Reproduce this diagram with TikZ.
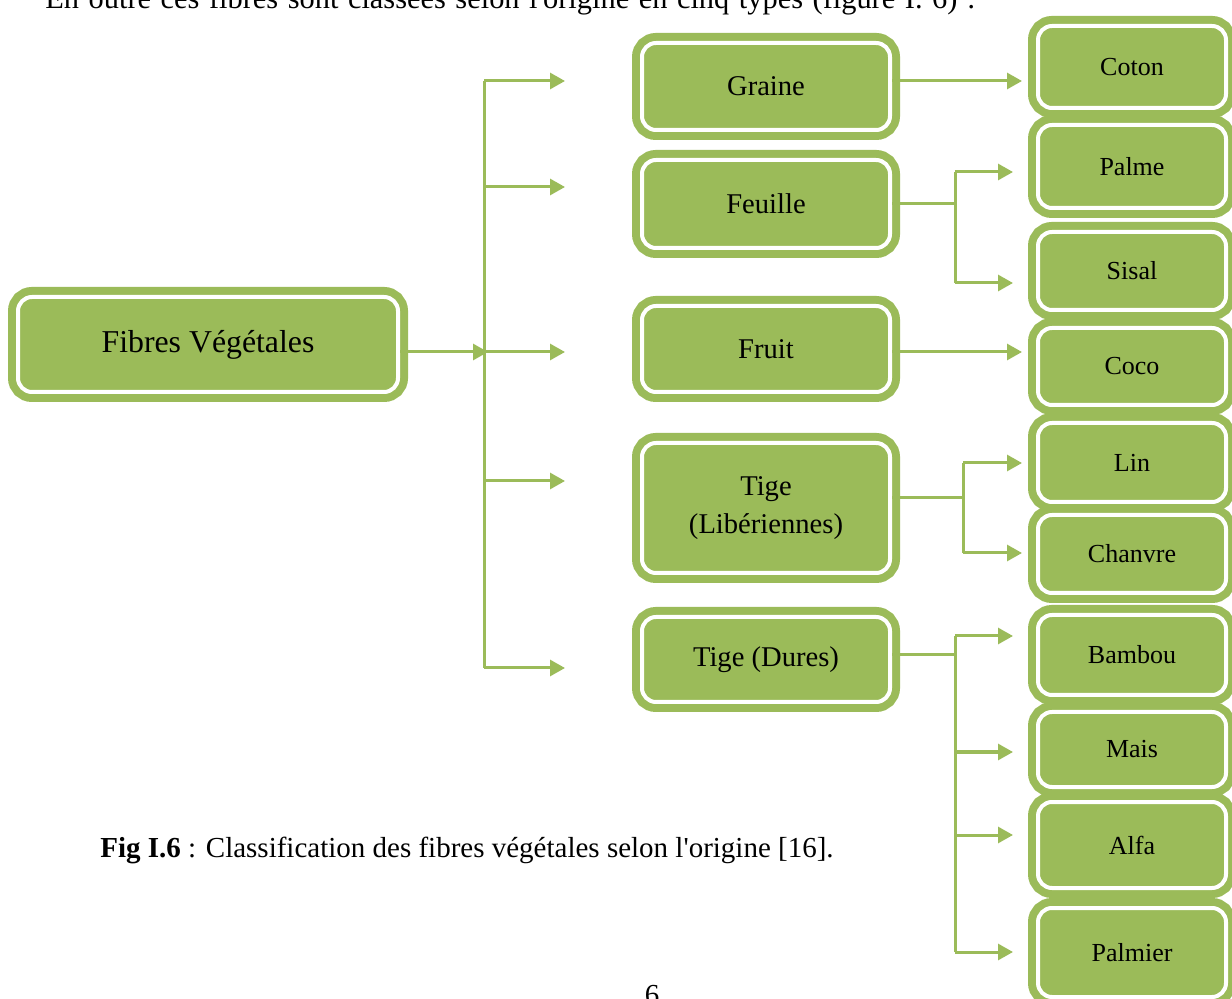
\documentclass[tikz,border=0pt]{standalone}
\usepackage{fontspec}
\setmainfont{Liberation Serif}
\usetikzlibrary{arrows.meta}
\definecolor{leaf}{HTML}{9BBB59}
\tikzset{
  fbox/.style={draw=white, line width=2pt, fill=leaf, rounded corners=7pt,
    inner sep=0pt, align=center, preaction={draw=leaf, line width=10pt}},
  rootbox/.style={fbox, minimum width=190pt, minimum height=47.5pt,
    font=\fontsize{15.9}{19}\selectfont},
  midbox/.style={fbox, minimum width=124pt, font=\fontsize{14.3}{19}\selectfont},
  leafbox/.style={fbox, minimum width=94pt, font=\fontsize{13}{16}\selectfont},
  link/.style={draw=leaf, line width=1.5pt},
  arr/.style={link, -{Triangle[length=7.5pt, width=8pt]}},
  prose/.style={font=\fontsize{14.5}{17}\selectfont, inner sep=0pt},
}
\begin{document}
\begin{tikzpicture}[x=0.5pt, y=-0.5pt]
\useasboundingbox (0,0) rectangle (1232,999);
\clip (0,0) rectangle (1232,999);

% running text of the page
\node[prose, font=\fontsize{15.2}{18}\selectfont, anchor=base west] (intro) at (45,9)
  {\makebox[465pt][s]{En outre ces fibres sont classées selon l\textquotesingle origine en cinq types (figure I. 6) :}};
\node[prose, anchor=base west] (cap) at (100,857)
  {\textbf{Fig I.6} : Classification des fibres végétales selon l\textquotesingle origine [16].};
\node[prose, anchor=base] (pg) at (652,1004) {6};

% root
\node[rootbox] (root) at (208,344.5) {Fibres Végétales};

% origins
\node[midbox, minimum height=43.5pt] (graine)  at (766,86.5)  {Graine};
\node[midbox, minimum height=44pt]   (feuille) at (766,204)   {Feuille};
\node[midbox, minimum height=43pt]   (fruit)   at (766,349)   {Fruit};
\node[midbox, minimum height=65pt]   (tigel)   at (766,508)   {Tige\\(Libériennes)};
\node[midbox, minimum height=42.5pt] (tiged)   at (766,659.5) {Tige (Dures)};

% fibres
\node[leafbox, minimum height=41pt]   (coton)   at (1132,67)    {Coton};
\node[leafbox, minimum height=41.5pt] (palme)   at (1132,166.5) {Palme};
\node[leafbox, minimum height=39pt]   (sisal)   at (1132,271)   {Sisal};
\node[leafbox, minimum height=38.5pt] (coco)    at (1132,366.5) {Coco};
\node[leafbox, minimum height=39.5pt] (lin)     at (1132,462.5) {Lin};
\node[leafbox, minimum height=39pt]   (chanvre) at (1132,554)   {Chanvre};
\node[leafbox, minimum height=40pt]   (bambou)  at (1132,655)   {Bambou};
\node[leafbox, minimum height=37.5pt] (mais)    at (1132,749.5) {Mais};
\node[leafbox, minimum height=43pt]   (alfa)    at (1132,845)   {Alfa};
\node[leafbox, minimum height=44.5pt] (palmier) at (1132,952.5) {Palmier};

% root to the five origins
\coordinate (hub) at (488,352);
\coordinate (trk) at (484,352);
\coordinate (a1) at (565,81);
\coordinate (a2) at (565,187);
\coordinate (a3) at (565,352);
\coordinate (a4) at (565,481);
\coordinate (a5) at (565,668);
\draw[arr] (root.east |- hub) -- (hub);
\draw[link] (trk |- a1) -- (trk |- a5);
\foreach \a in {a1,a2,a3,a4,a5}
  \draw[arr] (trk |- \a) -- (\a);

% Graine
\coordinate (g1) at (1022,81);
\draw[arr] (graine.east |- g1) -- (g1);

% Feuille
\coordinate (fs) at (955,204);
\coordinate (f1) at (1013,172);
\coordinate (f2) at (1013,283);
\draw[link] (feuille.east |- fs) -- (fs);
\draw[link] (fs |- f1) -- (fs |- f2);
\draw[arr] (fs |- f1) -- (f1);
\draw[arr] (fs |- f2) -- (f2);

% Fruit
\coordinate (k1) at (1022,352);
\draw[arr] (fruit.east |- k1) -- (k1);

% Tige (Libériennes)
\coordinate (ls) at (963,498);
\coordinate (l1) at (1022,463);
\coordinate (l2) at (1022,553);
\draw[link] (tigel.east |- ls) -- (ls);
\draw[link] (ls |- l1) -- (ls |- l2);
\draw[arr] (ls |- l1) -- (l1);
\draw[arr] (ls |- l2) -- (l2);

% Tige (Dures)
\coordinate (ds) at (955,655);
\coordinate (d1) at (1013,636);
\coordinate (d2) at (1013,752);
\coordinate (d3) at (1013,835);
\coordinate (d4) at (1013,952);
\draw[link] (tiged.east |- ds) -- (ds);
\draw[link] (ds |- d1) -- (ds |- d4);
\foreach \d in {d1,d2,d3,d4}
  \draw[arr] (ds |- \d) -- (\d);
\end{tikzpicture}
\end{document}
